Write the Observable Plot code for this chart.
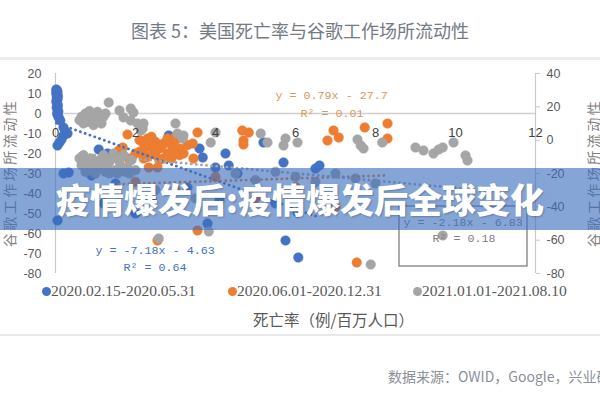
<!DOCTYPE html>
<html><head><meta charset="utf-8">
<script src="https://cdn.jsdelivr.net/npm/d3@7"></script>
<script src="https://cdn.jsdelivr.net/npm/@observablehq/plot@0.6"></script>
<style>
body{margin:0;background:#fff;}
#wrap{position:relative;width:600px;height:400px;overflow:hidden;background:#fff;font-family:"Noto Sans CJK SC",sans-serif;}
#wrap svg{position:absolute;left:0;top:0;}
.abs{position:absolute;white-space:nowrap;}
</style></head><body><div id="wrap"></div>
<script>
// ---------- data ----------
const seriesNames = ["2020.02.15-2020.05.31", "2020.06.01-2020.12.31", "2021.01.01-2021.08.10"];
const seriesColors = ["#4472c4", "#ed7d31", "#a5a5a5"];
const seriesAxis = ["left", "right", "right"];

// blue series (left axis)
const blueX = [0.02,0.04,0.03,0.05,0.02,0.04,0.06,0.03,0.05,0.02,0.04,0.06,0.03,0.05,0.07,0.04,0.06,0.08,
  0.12,0.2,0.25,0.2,0.3,0.1,0.05,0.15,0.33,0.2,0.9,1.08,1.3,2.83,3.6,3.68,4.25,4.33,4.0,4.55,5.2,5.7,6.5,6.6,0.05,5.75,6.07,
  1.5,2.4,3.3,4.1,5.5,6.05,2.0,3.8,1.2];
const blueY = [12,11.5,11,10.5,10,9,8.5,8,7,6,5,4,3,2,1,0,-1,-2,
  -3.5,-7,-9,-11,-10,-14.5,-16,-13,-29.5,-30,-31,-18,-20,-11,-17.5,-22,-20,-26,-27,-30,-14.5,-24.5,-27.5,-26,-53.5,-63.5,-72,
  -35,-42.5,-37,-43.5,-45,-49.5,-50,-55,-45];

// orange series (right axis)
const orangeX = [1.8,1.58,1.68,1.83,
  2.1,2.2,2.3,2.4,2.2,2.5,2.6,2.7,2.8,2.9,2.5,2.3,2.1,3.0,3.1,3.2,2.7,2.9,3.0,3.3,2.4,2.6,3.1,2.0,2.2,2.8,2.45,2.65,2.95,2.35,
  2.55,2.33,3.45,3.55,3.43,4.67,4.83,4.7,4.7,6.8,6.95,7.08,7.73,8.3,8.3,
  3.55,2.55,7.53,
  2.0,3.0,4.0,5.0,6.0,7.0];
const orangeY = [3.4,-6.2,-4.4,-11,
  0,-2,1,-4,-6,-1,-5,-2,-8,-3,-9,-10,-7,0,-5,-8,-11,-11,2,-3,2,-12,-9,-8,-11,1,-7,-4,-6,-3,
  -16.4,-16.4,-11,4.6,-2,5.8,4.6,-0.2,-2.6,-0.2,5.8,1.6,7.6,10,1,
  -54.2,-60.2,-73.4,
  -25,-30,-22,-35,-28,-40];

// gray series (right axis)
const grayX = [0.65,0.75,0.8,0.9,1.0,1.05,1.15,1.2,0.7,0.95,1.25,0.85,1.1,0.6,
  1.33,1.6,1.88,1.95,1.7,1.88,2.05,2.2,2.18,2.13,3.0,3.05,3.2,3.18,3.88,4.0,
  5.13,5.3,5.75,5.7,6.05,7.55,7.63,7.7,8.17,9.0,9.2,9.45,9.58,9.68,9.95,10.25,10.3,
  0.7,0.8,0.9,1.0,1.1,1.2,1.3,1.4,1.5,1.6,1.7,1.8,0.75,1.0,1.25,1.55,1.9,0.65,1.45,1.15,2.0,0.6,1.35,1.75,
  0.85,1.05,1.35,1.65,1.2,0.95,1.5,1.85,
  2.58,3.83,7.88,9.68,
  4.5,5.0,5.5,6.0,6.5,7.0,7.5,8.0,2.5,3.5];
const grayY = [14,16,11,15,12,17,10,14,10,9,16,17.5,13,12,
  22.6,17.8,19,16.6,13.6,11.8,10,10,7,5.8,10,4,2.8,1,-1.4,4.6,
  4,-1.4,1,-3.2,-1.4,0.4,-3.2,-5,-1.4,-4.4,-6.2,-8,-5.6,-4.4,-1.4,-9.2,-12.2,
  -9,-14,-11,-17,-12,-9,-15,-11,-18,-13,-9,-16,-19,-20,-19,-20,-12,-15,-8,-17,-18,-11,-20,-19,
  -16,-14,-13,-16,-12,-19,-10,-20,
  -59,-54.8,-74.6,-57.2,
  -20,-24,-19,-22,-25,-20,-23,-26,-30,-35];

// trend lines (from the equations shown on the chart)
const trendSlopes = [-7.18, 0.79, -2.18];
const trendIntercepts = [-4.63, -27.7, -6.83];
const trendTexts = ["y = -7.18x - 4.63", "y = 0.79x - 27.7", "y = -2.18x - 6.83"];
const r2Texts = ["R² = 0.64", "R² = 0.01", "R² = 0.18"];

// ticks
const xTicks = [0, 2, 4, 6, 8, 10, 12];
const leftTicks = [20, 10, 0, -10, -20, -30, -40, -50, -60, -70, -80];
const rightTicks = [40, 20, 0, -20, -40, -60, -80];

// texts
const titleText = "图表 5：美国死亡率与谷歌工作场所流动性";
const yTitle = "谷歌工作场所流动性";
const xTitle = "死亡率（例/百万人口）";
const sourceText = "数据来源：OWID，Google，兴业研究";
const bannerText = "疫情爆发后:疫情爆发后全球变化";

// ---------- build ----------
const toLeft = d3.scaleLinear([-80, 40], [-80, 20]); // secondary axis -> primary axis
const seriesX = [blueX, orangeX, grayX];
const seriesY = [blueY, orangeY, grayY];
const conv = (k, v) => seriesAxis[k] === "left" ? v : toLeft(v);

const points = seriesX.map((xs, k) => xs.map((x, i) => ({x, y: conv(k, seriesY[k][i])})));
const trends = seriesX.map((xs, k) => d3.extent(xs).map(x => ({x, y: conv(k, trendSlopes[k] * x + trendIntercepts[k])})));

const eqColors = ["#4472c4", "#d49a5c", "#808080"];
const eqLayout = [
  {eq: [1.0, -68.5], r2: [1.7, -77]},
  {eq: [5.5, 9], r2: [6.125, 0]},
  {eq: [8.7, -54.5], r2: [9.425, -62.5]}
];
const eqData = eqLayout.flatMap((p, k) => [
  {x: p.eq[0], y: p.eq[1], t: trendTexts[k], c: eqColors[k]},
  {x: p.r2[0], y: p.r2[1], t: r2Texts[k], c: eqColors[k]}
]);

const chart = Plot.plot({
  width: 600, height: 400,
  marginLeft: 55, marginRight: 65, marginTop: 73, marginBottom: 127,
  x: {domain: [0, 12], axis: null},
  y: {domain: [-80, 20], axis: null, label: null},
  style: {fontFamily: "Liberation Sans, sans-serif", background: "transparent"},
  marks: [
    Plot.ruleY([0], {stroke: "#d0d0d0", strokeWidth: 1.3}),
    Plot.ruleX([0], {stroke: "#c8c8c8", strokeWidth: 1.2}),
    Plot.ruleX([12], {stroke: "#c8c8c8", strokeWidth: 1.2}),
    Plot.axisY(leftTicks, {anchor: "left", tickSize: 0, tickPadding: 14, fontSize: 12.5,
      fill: "#595959", stroke: "#c8c8c8", label: null, tickFormat: d => String(d)}),
    Plot.axisY(rightTicks.map(v => toLeft(v)), {anchor: "right", tickSize: 4, tickPadding: 7, fontSize: 12.5,
      fill: "#595959", stroke: "#c8c8c8", label: null, tickFormat: d => String(Math.round(toLeft.invert(d)))}),
    ...points.map((pts, k) => Plot.dot(pts, {x: "x", y: "y", r: 4.8, fill: seriesColors[k], stroke: seriesColors[k], strokeWidth: 0.5})),
    ...trends.map((t, k) => Plot.line(t, {x: "x", y: "y", stroke: seriesColors[k], strokeWidth: 2.8,
      strokeDasharray: "0.1 5", strokeLinecap: "round"})),
    Plot.text(xTicks, {x: d => d, y: d => 0, dy: 19, text: d => String(d), fontSize: 13, fill: "#404040"}),
    Plot.rect([{}], {x1: () => 8.6, x2: () => 11.8, y1: () => -76.5, y2: () => -46.5, fill: "none", stroke: "#7f7f7f", strokeWidth: 1.3}),
    Plot.text(eqData, {x: "x", y: "y", text: "t", fill: d => d.c, textAnchor: "start",
      fontFamily: "Liberation Mono, monospace", fontSize: 11.7})
  ]
});

const wrap = document.getElementById("wrap");
wrap.appendChild(chart);

function addDiv(html, css) {
  const d = document.createElement("div");
  d.className = "abs";
  d.textContent = html;
  Object.assign(d.style, css);
  wrap.appendChild(d);
  return d;
}

// title + separators
addDiv(titleText, {left: "0px", width: "600px", top: "18px", lineHeight: "24px", textAlign: "center", fontSize: "18px", color: "#737b85"});
addDiv("", {left: "0px", top: "57px", width: "600px", height: "3px", background: "#ececec"});
addDiv("", {left: "0px", top: "334px", width: "600px", height: "2px", background: "#e8e8e8"});

// axis titles
for (const cx of [9, 593]) {
  addDiv(yTitle, {left: (cx - 80) + "px", top: (173 - 10) + "px", width: "160px", height: "20px", lineHeight: "20px",
    textAlign: "center", fontSize: "14px", letterSpacing: "2.5px", color: "#7f7f7f", transform: "rotate(-90deg)"});
}
addDiv(xTitle, {left: "253px", top: "309px", lineHeight: "20px", fontSize: "15.5px", color: "#595959"});

// legend
const legendDot = [46, 232, 417];
seriesNames.forEach((n, k) => {
  const dot = addDiv("", {left: (legendDot[k] - 4.5) + "px", top: (291 - 4.5) + "px", width: "9px", height: "9px",
    borderRadius: "50%", background: seriesColors[k]});
  addDiv(n, {left: (legendDot[k] + 5) + "px", top: "281px", lineHeight: "20px", fontSize: "15.5px",
    fontFamily: "Liberation Serif, serif", color: "#595959"});
});

// source
addDiv(sourceText, {left: "388px", top: "366px", lineHeight: "20px", fontSize: "14px", color: "#8a9099"});

// banner overlay
addDiv(bannerText, {left: "0px", top: "168px", width: "600px", height: "62px", lineHeight: "62px", textAlign: "center",
  background: "rgba(60,110,190,0.62)", color: "#ffffff", fontSize: "34px", fontWeight: "900",
  textShadow: "1px 1px 2px rgba(0,0,0,0.25)"});
</script>
</body></html>
